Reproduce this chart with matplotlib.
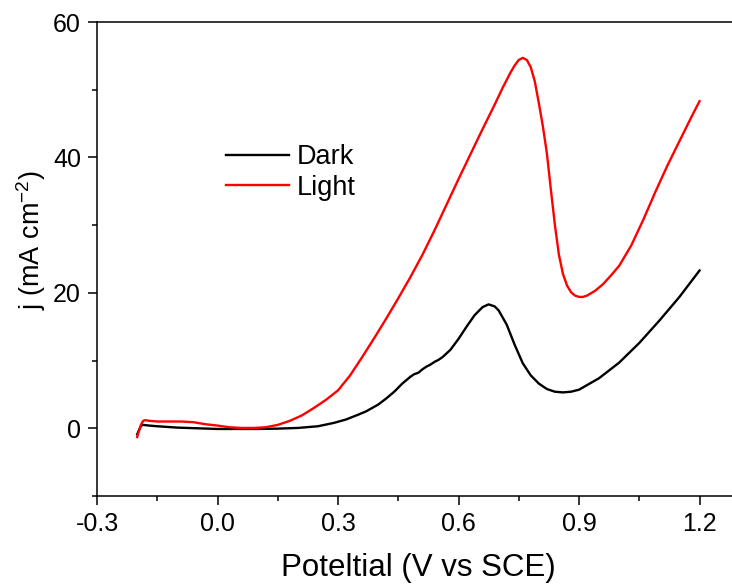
import numpy as np
import matplotlib
matplotlib.use("Agg")
import matplotlib.pyplot as plt
from matplotlib.ticker import MultipleLocator

plt.rcParams['font.family'] = ['Liberation Sans', 'DejaVu Sans']
plt.rcParams['mathtext.fontset'] = 'custom'
plt.rcParams['mathtext.rm'] = 'Liberation Sans'
plt.rcParams['mathtext.it'] = 'Liberation Sans:italic'

# dark curve (V vs SCE, mA cm-2)
dark_v = [-0.20, -0.195, -0.19, -0.185, -0.17, -0.15, -0.10, -0.05, 0.0, 0.05, 0.10, 0.15,
          0.20, 0.25, 0.29, 0.32, 0.35, 0.37, 0.40, 0.42, 0.44, 0.46, 0.47, 0.48, 0.49, 0.50, 0.51,
          0.52, 0.53, 0.54, 0.55, 0.56, 0.58, 0.60, 0.62, 0.64, 0.66, 0.675, 0.69, 0.70, 0.72,
          0.74, 0.76, 0.78, 0.80, 0.82, 0.84, 0.86, 0.88, 0.90, 0.95, 1.00, 1.05, 1.10, 1.15, 1.20]
dark_j = [-0.9, -0.2, 0.4, 0.5, 0.4, 0.3, 0.1, 0.0, -0.1, -0.1, -0.1, -0.05,
          0.05, 0.3, 0.8, 1.3, 2.0, 2.5, 3.5, 4.4, 5.4, 6.6, 7.1, 7.6, 8.0, 8.2, 8.7,
          9.1, 9.4, 9.8, 10.1, 10.5, 11.6, 13.2, 15.0, 16.7, 17.9, 18.3, 18.0, 17.4, 15.3,
          12.3, 9.6, 7.8, 6.6, 5.8, 5.4, 5.3, 5.4, 5.7, 7.4, 9.7, 12.6, 15.9, 19.4, 23.3]

# light curve
light_v = [-0.20, -0.195, -0.19, -0.185, -0.18, -0.17, -0.15, -0.12, -0.09, -0.06, -0.03, 0.0,
           0.03, 0.06, 0.09, 0.12, 0.15, 0.18, 0.21, 0.24, 0.27, 0.30, 0.33, 0.36, 0.39, 0.42,
           0.45, 0.48, 0.51, 0.54, 0.57, 0.60, 0.63, 0.66, 0.69, 0.71, 0.73, 0.74, 0.75, 0.76,
           0.77, 0.78, 0.79, 0.80, 0.81, 0.82, 0.83, 0.84, 0.85, 0.86, 0.87, 0.88, 0.89, 0.90,
           0.91, 0.92, 0.94, 0.96, 0.98, 1.00, 1.03, 1.06, 1.09, 1.12, 1.15, 1.18, 1.20]
light_j = [-1.3, -0.3, 0.6, 1.1, 1.2, 1.1, 1.0, 1.0, 1.0, 0.9, 0.6, 0.4,
           0.15, 0.05, 0.05, 0.15, 0.5, 1.1, 1.9, 3.0, 4.2, 5.6, 7.8, 10.5, 13.3, 16.2,
           19.2, 22.3, 25.6, 29.2, 33.0, 36.8, 40.5, 44.2, 47.8, 50.3, 52.6, 53.6, 54.4, 54.7,
           54.4, 53.3, 51.2, 48.0, 44.6, 40.6, 35.2, 30.0, 25.6, 22.8, 21.1, 20.1, 19.6, 19.4,
           19.4, 19.6, 20.3, 21.3, 22.6, 24.0, 27.0, 30.8, 34.9, 38.8, 42.4, 46.0, 48.3]

fig = plt.figure(figsize=(7.32, 5.88), dpi=100)
ax = fig.add_axes([97/732, 92/588, 642.7/732, 474/588])

ax.plot(dark_v, dark_j, color='black', lw=1.7, label='Dark')
ax.plot(light_v, light_j, color='red', lw=1.7, label='Light')

ax.set_xlim(-0.3, 1.3)
ax.set_ylim(-10, 60)
ax.xaxis.set_major_locator(MultipleLocator(0.3))
ax.xaxis.set_minor_locator(MultipleLocator(0.15))
ax.yaxis.set_major_locator(MultipleLocator(20))
ax.yaxis.set_minor_locator(MultipleLocator(10))
ax.set_xticks([-0.3, 0.0, 0.3, 0.6, 0.9, 1.2])
ax.set_xticklabels(['-0.3', '0.0', '0.3', '0.6', '0.9', '1.2'])
ax.tick_params(which='major', direction='out', length=6.5, width=1.1, labelsize=18, pad=5)
ax.tick_params(which='minor', direction='out', length=3.5, width=1.1)
for s in ax.spines.values():
    s.set_linewidth(1.1)

ax.set_xlabel('Poteltial (V vs SCE)', fontsize=22.5, labelpad=12)
ax.set_ylabel('j (mA cm$^{-2}$)', fontsize=19.5)
ax.yaxis.set_label_coords(-0.077, 0.54)

ax.legend(loc='center left', bbox_to_anchor=(0.2007, 0.6825), frameon=False, fontsize=19.5,
          handlelength=2.33, handletextpad=0.3, labelspacing=0.15,
          borderpad=0, borderaxespad=0)

fig.savefig('out.png', dpi=100)
